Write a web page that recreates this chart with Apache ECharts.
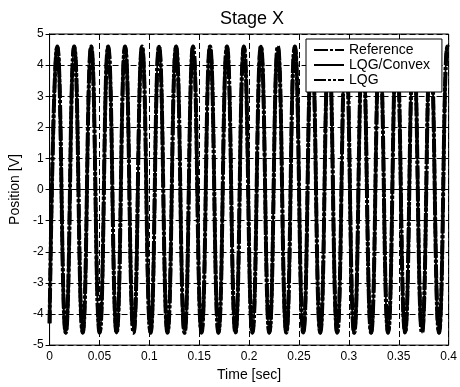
<!DOCTYPE html>
<html>
<head>
<meta charset="utf-8">
<script src="https://cdn.jsdelivr.net/npm/echarts@6/dist/echarts.min.js"></script>
<style>
    html, body { margin: 0; padding: 0; background: #fff; }
    #showChart { width: 460px; height: 387px; }
</style>
</head>
<body>
<div id="showChart"></div>
<script>
    // turning points of the response (time [s], position [V])
    const times = [
        0, 0.0077, 0.0162, 0.0247, 0.0332, 0.0417, 0.0502, 0.0587, 0.0672, 0.0757,
        0.0842, 0.0927, 0.1012, 0.1097, 0.1182, 0.1268, 0.1353, 0.1438, 0.1523, 0.1608,
        0.1693, 0.1778, 0.1863, 0.1948, 0.2033, 0.2118, 0.2203, 0.2288, 0.2373, 0.2458,
        0.2543, 0.2628, 0.2713, 0.2798, 0.2883, 0.2968, 0.3053, 0.3138, 0.3223, 0.3308,
        0.3393, 0.3478, 0.3563, 0.3648, 0.3733, 0.3818, 0.3903, 0.3988, 0.4
    ];
    const position = [
        -4.3, 4.6, -4.6, 4.6, -4.6, 4.6, -4.6, 4.6, -4.6, 4.6,
        -4.6, 4.6, -4.6, 4.6, -4.6, 4.6, -4.6, 4.6, -4.6, 4.6,
        -4.6, 4.6, -4.6, 4.6, -4.6, 4.6, -4.6, 4.6, -4.6, 4.6,
        -4.6, 4.6, -4.6, 4.6, -4.6, 4.6, -4.6, 4.6, -4.6, 4.6,
        -4.6, 4.6, -4.6, 4.6, -4.6, 4.6, -4.6, 4.6, 4.58
    ];
    const seriesNames = ['Reference', 'LQG/Convex', 'LQG'];
    const xTickLabels = ['0', '0.05', '0.1', '0.15', '0.2', '0.25', '0.3', '0.35', '0.4'];

    const font = '"Liberation Sans", Arial, sans-serif';
    const points = times.map(function(t, i) { return [t, position[i]]; });
    const styles = [
        { width: 4, type: [14, 2, 3, 2] },
        { width: 2, type: 'solid' },
        { width: 3.5, type: [12, 2, 3, 2, 3, 2] }
    ];

    const tickStyle = { inside: true, length: 4, lineStyle: { color: '#000' } };
    const gridLine = { show: true, lineStyle: { color: '#000', width: 1, type: [6, 3] } };

    const myChart = echarts.init(document.getElementById('showChart'));
    const option = {
        animation: false,
        backgroundColor: '#fff',
        title: {
            text: 'Stage X',
            left: 215,
            top: 5,
            textStyle: { fontFamily: font, fontSize: 18, fontWeight: 'normal', color: '#000' }
        },
        legend: {
            orient: 'vertical',
            left: 306,
            top: 39,
            itemWidth: 30,
            itemHeight: 8,
            itemGap: 1,
            padding: [4, 12, 5, 7],
            borderColor: '#000',
            borderWidth: 1,
            borderRadius: 0,
            backgroundColor: '#fff',
            itemStyle: { opacity: 0 },
            textStyle: { fontFamily: font, fontSize: 14, color: '#000' },
            data: seriesNames
        },
        grid: {
            left: 49, right: 9, top: 34, bottom: 37,
            show: true, borderColor: '#000', borderWidth: 1, backgroundColor: '#fff'
        },
        xAxis: [{
            type: 'value',
            min: 0, max: 0.4, interval: 0.05,
            name: 'Time [sec]',
            nameLocation: 'middle',
            nameGap: 22,
            nameTextStyle: { fontFamily: font, fontSize: 14, color: '#000' },
            axisLine: { lineStyle: { color: '#000' } },
            axisTick: tickStyle,
            axisLabel: {
                fontFamily: font, fontSize: 12, color: '#000', margin: 6,
                formatter: function(v) { return xTickLabels[Math.round(v / 0.05)]; }
            },
            splitLine: gridLine
        }, {
            type: 'value', position: 'top',
            min: 0, max: 0.4, interval: 0.05,
            axisLine: { lineStyle: { color: '#000' } },
            axisTick: tickStyle,
            axisLabel: { show: false },
            splitLine: { show: false }
        }],
        yAxis: [{
            type: 'value',
            min: -5, max: 5, interval: 1,
            name: 'Position [V]',
            nameLocation: 'middle',
            nameGap: 26,
            nameTextStyle: { fontFamily: font, fontSize: 14, color: '#000' },
            axisLine: { show: true, lineStyle: { color: '#000' } },
            axisTick: tickStyle,
            axisLabel: { fontFamily: font, fontSize: 12, color: '#000', margin: 6 },
            splitLine: gridLine
        }, {
            type: 'value', position: 'right',
            min: -5, max: 5, interval: 1,
            axisLine: { show: true, lineStyle: { color: '#000' } },
            axisTick: tickStyle,
            axisLabel: { show: false },
            splitLine: { show: false }
        }],
        series: seriesNames.map(function(name, i) {
            return {
                name: name,
                type: 'line',
                xAxisIndex: 0,
                yAxisIndex: 0,
                showSymbol: false,
                symbol: 'none',
                smooth: 0.5,
                smoothMonotone: 'x',
                color: '#000',
                lineStyle: { color: '#000', width: styles[i].width, type: styles[i].type },
                data: points
            };
        })
    };
    myChart.setOption(option);
</script>
</body>
</html>
